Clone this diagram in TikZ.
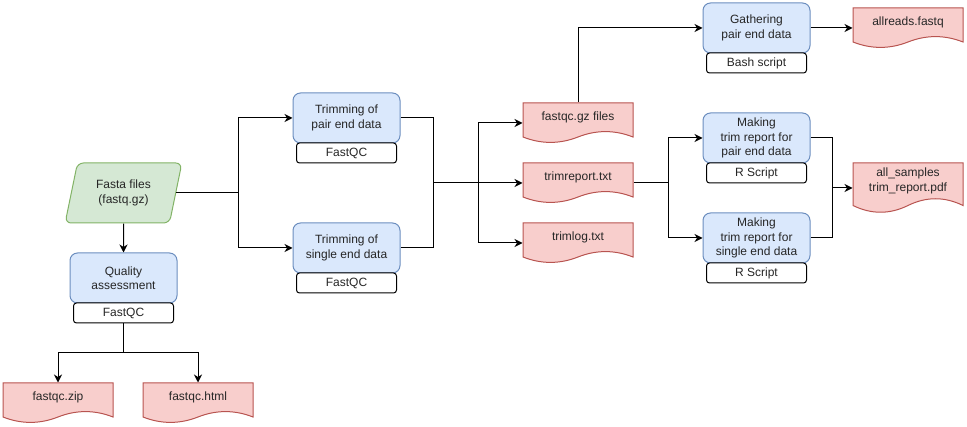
\documentclass[tikz,border=0pt]{standalone}
\usepackage{fontspec}
\setmainfont{Liberation Sans}
\usetikzlibrary{shapes.geometric,arrows.meta}
\definecolor{bfill}{HTML}{DAE8FC}
\definecolor{bline}{HTML}{6C8EBF}
\definecolor{gfill}{HTML}{D5E8D4}
\definecolor{gline}{HTML}{82B366}
\definecolor{rfill}{HTML}{F8CECC}
\definecolor{rline}{HTML}{B85450}
\newcommand\docshape[5]{%
  \draw[docline] (#2,#3) -- ({#2+110},#3) -- ({#2+110},{#3+0.85*#4})
    .. controls ({#2+91.67},{#3+0.67*#4}) and ({#2+73.33},{#3+0.67*#4}) .. ({#2+55},{#3+0.85*#4})
    .. controls ({#2+36.67},{#3+1.03*#4}) and ({#2+18.33},{#3+1.03*#4}) .. (#2,{#3+0.85*#4}) -- cycle;
  \node[docgeom, minimum height=#4] (#1) at ({#2+55},{#3+0.5*#4}) {};
  \node[doctext] (#1t) at ({#2+55},{#3+0.36*#4}) {#5};
}
\begin{document}
\begin{tikzpicture}[x=1pt,y=-1pt,line width=1pt,
  every node/.style={font=\fontsize{12}{14.4}\selectfont, text=black!85},
  proc/.style={rectangle, rounded corners=7.5, draw=bline, fill=bfill, minimum width=107, minimum height=50, align=center, inner sep=0},
  tool/.style={rectangle, rounded corners=3, draw=black, fill=white, minimum width=100, minimum height=20, inner sep=0},
  docgeom/.style={rectangle, minimum width=110, inner sep=0},
  doctext/.style={align=center, inner sep=0},
  docline/.style={draw=rline, fill=rfill},
  arr/.style={-{Stealth[length=8pt,width=8pt,inset=2.5pt]}}]
\useasboundingbox (0,0) rectangle (967,427);

% input
\node[trapezium, trapezium left angle=74, trapezium right angle=106, trapezium stretches=true,
  minimum width=117, minimum height=60, rounded corners=6, draw=gline, fill=gfill, align=center, inner sep=0]
  (fasta) at (123.5,193) {Fasta files\\(fastq.gz)};

% quality
\node[proc] (qa) at (123.5,278) {Quality\\assessment};
\node[tool] (qat) at (123.5,313) {FastQC};
\docshape{zip}{3}{383}{40}{fastqc.zip}
\docshape{html}{143}{383}{40}{fastqc.html}

% trimming
\node[proc] (tp) at (346.5,118) {Trimming of\\pair end data};
\node[tool] (tpt) at (346.5,153) {FastQC};
\node[proc] (ts) at (346.5,248) {Trimming of\\single end data};
\node[tool] (tst) at (346.5,283) {FastQC};

% outputs
\docshape{gz}{523}{103}{40}{fastqc.gz files}
\docshape{rep}{523}{163}{40}{trimreport.txt}
\docshape{log}{523}{223}{40}{trimlog.txt}

% right side
\node[proc] (ga) at (756.5,28) {Gathering\\pair end data};
\node[tool] (gat) at (756.5,63) {Bash script};
\docshape{all}{853}{8}{40}{allreads.fastq}
\node[proc] (mp) at (756.5,138) {Making\\trim report for\\pair end data};
\node[tool] (mpt) at (756.5,173) {R Script};
\node[proc] (ms) at (756.5,238) {Making\\trim report for\\single end data};
\node[tool] (mst) at (756.5,273) {R Script};
\docshape{pdf}{853}{163}{50}{all\_samples\\trim\_report.pdf}

% junctions
\coordinate (j1) at (238,193);
\coordinate (j2) at (433,183);
\coordinate (j3) at (478,183);
\coordinate (j4) at (668,183);
\coordinate (j5) at (832,188);
\coordinate (j6) at (123.5,353);

% connectors
\draw[arr] (fasta.south) -- (qa.north);
\draw (qat.south) -- (j6);
\draw[arr] (j6) -| (zip.north);
\draw[arr] (j6) -| (html.north);
\draw (fasta.east) -- (j1);
\draw[arr] (j1) |- (tp.west);
\draw[arr] (j1) |- (ts.west);
\draw (tp.east) -| (j2);
\draw (ts.east) -| (j2);
\draw (j2) -- (j3);
\draw[arr] (j3) |- (gz.west);
\draw[arr] (j3) -- (rep.west);
\draw[arr] (j3) |- (log.west);
\draw[arr] (gz.north) |- (ga.west);
\draw[arr] (ga.east) -- (all.west);
\draw (rep.east) -- (j4);
\draw[arr] (j4) |- (mp.west);
\draw[arr] (j4) |- (ms.west);
\draw (mp.east) -| (j5);
\draw (ms.east) -| (j5);
\draw[arr] (j5) -- (pdf.west);
\end{tikzpicture}
\end{document}
